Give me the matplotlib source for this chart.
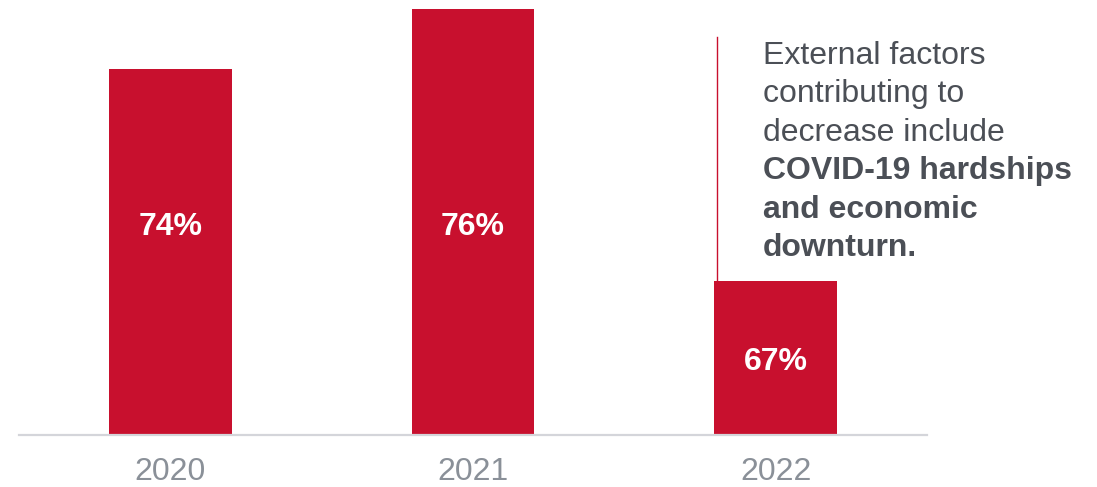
import matplotlib
matplotlib.use("Agg")
import matplotlib.pyplot as plt

years = ["2020", "2021", "2022"]
values = [74, 76, 67]
value_labels = ["74%", "76%", "67%"]
note_lines = ["External factors", "contributing to", "decrease include",
              "COVID-19 hardships", "and economic", "downturn."]
note_bold = [False, False, False, True, True, True]

plt.rcParams['font.family'] = ['Liberation Sans', 'DejaVu Sans']

W, H = 1097, 487
fig = plt.figure(figsize=(W / 100, H / 100), dpi=100)
ax = fig.add_axes([19 / W, (H - 435) / H, (927 - 19) / W, (435 - 9) / H])

red = "#c8102e"
x = list(range(len(years)))
ax.bar(x, values, width=0.405, color=red, bottom=0, zorder=2)
ax.set_xlim(-0.5, 2.5)
ax.set_ylim(61.9, 76)

for s in ["top", "right", "left"]:
    ax.spines[s].set_visible(False)
ax.spines["bottom"].set_color("#d4d5da")
ax.spines["bottom"].set_linewidth(1.6)
ax.spines["bottom"].set_zorder(3)
ax.set_yticks([])
ax.set_xticks(x)
ax.set_xticklabels(years, fontsize=23, color="#8a9098")
ax.tick_params(axis="x", length=0, pad=16)

label_y = [68.8, 68.8, 64.3]
for xi, ly, lab in zip(x, label_y, value_labels):
    ax.text(xi, ly, lab, ha="center", va="center", color="white",
            fontsize=23, fontweight="bold", zorder=4)

# annotation line
ax.plot([1.807, 1.807], [67, 75.08], color=red, lw=1.0, zorder=1, clip_on=False)

# note text
tx = 763 / W
base0 = 64
step = 38.4
for i, (line, b) in enumerate(zip(note_lines, note_bold)):
    yb = base0 + i * step
    fig.text(tx, 1 - yb / H, line, ha="left", va="baseline", fontsize=23,
             color="#4b4f56", fontweight="bold" if b else "normal")

fig.savefig("out.png", dpi=100)
